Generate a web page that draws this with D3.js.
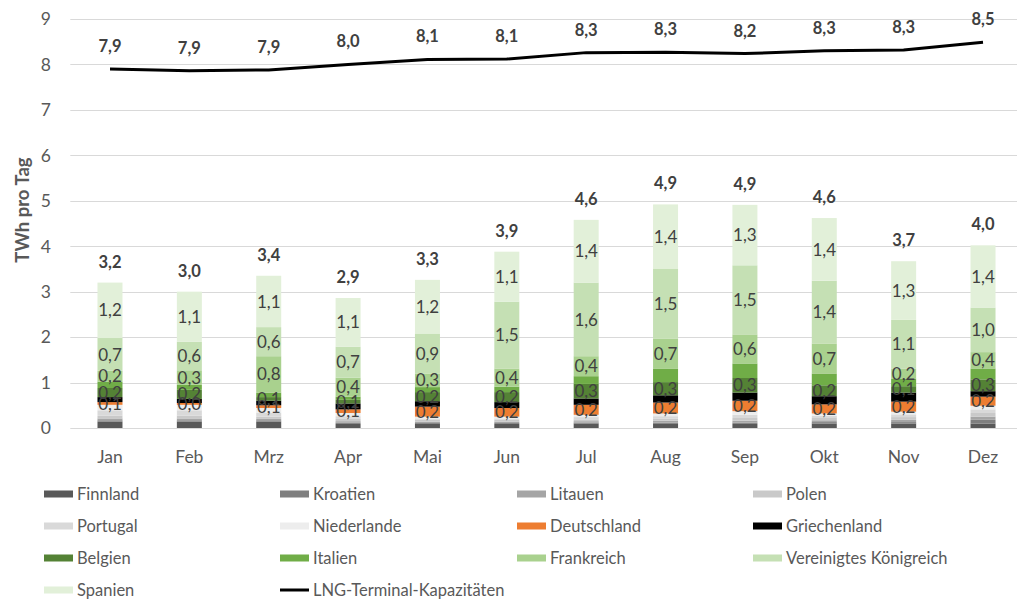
<!DOCTYPE html>
<html><head><meta charset="utf-8">
<script src="https://cdn.jsdelivr.net/npm/d3@7"></script>
<style>
html,body{margin:0;padding:0;background:#fff;}
text{font-family:Lato,"Open Sans",sans-serif;}
</style></head>
<body><svg id="c" width="1019" height="603"></svg>
<script>
const months = ["Jan","Feb","Mrz","Apr","Mai","Jun","Jul","Aug","Sep","Okt","Nov","Dez"];
const seriesNames = ["Finnland","Kroatien","Litauen","Polen","Portugal","Niederlande","Deutschland","Griechenland","Belgien","Italien","Frankreich","Vereinigtes Königreich","Spanien"];
const seriesColors = ["#595959","#7f7f7f","#a5a5a5","#c9c9c9","#d9d9d9","#ededed","#ed7d31","#000000","#548235","#70ad47","#a9d18e","#c5e0b4","#e2f0d9"];
const labelledSeries = ["Deutschland","Belgien","Frankreich","Vereinigtes Königreich","Spanien"];

const finnland     = [0.14,0.14,0.14,0.09,0.09,0.09,0.10,0.09,0.09,0.10,0.10,0.10];
const kroatien     = [0.03,0.03,0.03,0.03,0.02,0.02,0.02,0.03,0.03,0.03,0.03,0.08];
const litauen      = [0.04,0.04,0.03,0.03,0.03,0.03,0.03,0.04,0.04,0.04,0.05,0.07];
const polen        = [0.06,0.06,0.05,0.05,0.04,0.04,0.04,0.05,0.06,0.05,0.06,0.08];
const portugal     = [0.12,0.12,0.09,0.06,0.03,0.03,0.05,0.05,0.07,0.05,0.06,0.08];
const niederlande  = [0.12,0.12,0.10,0.07,0.04,0.04,0.05,0.06,0.08,0.05,0.06,0.08];
const deutschland  = [0.06,0.04,0.06,0.08,0.22,0.19,0.22,0.24,0.23,0.20,0.22,0.20];
const griechenland = [0.11,0.09,0.10,0.13,0.12,0.13,0.14,0.16,0.18,0.18,0.20,0.12];
const belgien      = [0.20,0.20,0.08,0.08,0.20,0.22,0.32,0.29,0.32,0.24,0.14,0.26];
const italien      = [0.14,0.11,0.10,0.07,0.11,0.12,0.17,0.29,0.32,0.26,0.17,0.24];
const frankreich   = [0.24,0.32,0.80,0.42,0.30,0.40,0.44,0.67,0.64,0.66,0.22,0.36];
const vereinigtesKoenigreich = [0.72,0.63,0.64,0.68,0.88,1.47,1.62,1.54,1.52,1.38,1.07,0.98];
const spanien      = [1.22,1.10,1.13,1.07,1.18,1.10,1.38,1.41,1.33,1.38,1.29,1.37];
const lngKapazitaet = [7.90,7.86,7.88,8.00,8.11,8.12,8.26,8.27,8.24,8.30,8.32,8.49];
const yTicks = [0,1,2,3,4,5,6,7,8,9];
const lineName = "LNG-Terminal-Kapazitäten";

const seriesValues = [finnland,kroatien,litauen,polen,portugal,niederlande,deutschland,griechenland,belgien,italien,frankreich,vereinigtesKoenigreich,spanien];

const rows = months.map((m,i)=>{
  const r = {month:m};
  seriesNames.forEach((s,j)=>{ r[s]=seriesValues[j][i]; });
  return r;
});
const stacked = d3.stack().keys(seriesNames)(rows);
const totals = months.map((m,i)=>d3.sum(seriesValues, a=>a[i]));

const fmt = v => d3.format(".1f")(v).replace(".",",");

const svg = d3.select("#c");
const x = d3.scaleBand().domain(months).range([70.3,1022.7]).paddingInner(0.685).paddingOuter(0.3425);
const y = d3.scaleLinear().domain([0,9]).range([428,19]);

// gridlines
svg.append("g").selectAll("line").data(yTicks).join("line")
  .attr("x1",70.3).attr("x2",1017)
  .attr("y1",d=>Math.round(y(d))+0.5).attr("y2",d=>Math.round(y(d))+0.5)
  .attr("stroke","#d9d9d9").attr("stroke-width",1);

// y tick labels
svg.append("g").selectAll("text").data(yTicks).join("text")
  .attr("x",51).attr("y",d=>y(d)).attr("dy","0.36em")
  .attr("text-anchor","end").attr("font-size",17.5).attr("fill","#595959")
  .text(d=>d);

// x labels
svg.append("g").selectAll("text").data(months).join("text")
  .attr("x",d=>x(d)+x.bandwidth()/2).attr("y",463)
  .attr("text-anchor","middle").attr("font-size",17.5).attr("fill","#595959")
  .text(d=>d);

// y title
svg.append("text").attr("transform","translate(29,210) rotate(-90)")
  .attr("text-anchor","middle").attr("font-size",18.5).attr("font-weight","bold").attr("fill","#595959")
  .text("TWh pro Tag");

// bars
const color = d3.scaleOrdinal().domain(seriesNames).range(seriesColors);
const gBars = svg.append("g");
stacked.forEach(layer=>{
  gBars.append("g").attr("fill",color(layer.key)).selectAll("rect").data(layer).join("rect")
    .attr("x",d=>x(d.data.month)).attr("width",x.bandwidth())
    .attr("y",d=>y(d[1])).attr("height",d=>Math.max(0,y(d[0])-y(d[1])));
});
// segment labels
stacked.filter(l=>labelledSeries.includes(l.key)).forEach(layer=>{
  gBars.append("g").selectAll("text").data(layer).join("text")
    .attr("x",d=>x(d.data.month)+x.bandwidth()/2)
    .attr("y",d=>y((d[0]+d[1])/2)).attr("dy","0.36em")
    .attr("text-anchor","middle").attr("font-size",17).attr("fill","#404040")
    .text(d=>fmt(d[1]-d[0]));
});
// totals
svg.append("g").selectAll("text").data(months).join("text")
  .attr("x",d=>x(d)+x.bandwidth()/2).attr("y",(d,i)=>y(totals[i])-15)
  .attr("text-anchor","middle").attr("font-size",16.5).attr("font-weight","bold").attr("fill","#404040")
  .text((d,i)=>fmt(totals[i]));

// line
const line = d3.line().x((d,i)=>x(months[i])+x.bandwidth()/2).y(d=>y(d));
svg.append("path").datum(lngKapazitaet).attr("d",line)
  .attr("fill","none").attr("stroke","#000").attr("stroke-width",3).attr("stroke-linejoin","round");
svg.append("g").selectAll("text").data(lngKapazitaet).join("text")
  .attr("x",(d,i)=>x(months[i])+x.bandwidth()/2).attr("y",d=>y(d)-17)
  .attr("text-anchor","middle").attr("font-size",16.5).attr("font-weight","bold").attr("fill","#404040")
  .text(d=>fmt(d));

// legend
const legendItems = seriesNames.map((s,i)=>({name:s,color:seriesColors[i],type:"rect"})).concat([{name:lineName,color:"#000",type:"line"}]);
const colX = [44,280,517,753];
const rowY = [494,526,558,590];
const lg = svg.append("g").selectAll("g").data(legendItems).join("g")
  .attr("transform",(d,i)=>`translate(${colX[i%4]},${rowY[Math.floor(i/4)]})`);
lg.each(function(d){
  const g = d3.select(this);
  if(d.type==="rect") g.append("rect").attr("x",0).attr("y",-3.5).attr("width",29).attr("height",7).attr("fill",d.color);
  else g.append("line").attr("x1",0).attr("x2",29).attr("y1",0).attr("y2",0).attr("stroke","#000").attr("stroke-width",3);
  g.append("text").attr("x",33).attr("y",0).attr("dy","0.36em").attr("font-size",16.5).attr("fill","#595959").text(d.name);
});
</script></body></html>
